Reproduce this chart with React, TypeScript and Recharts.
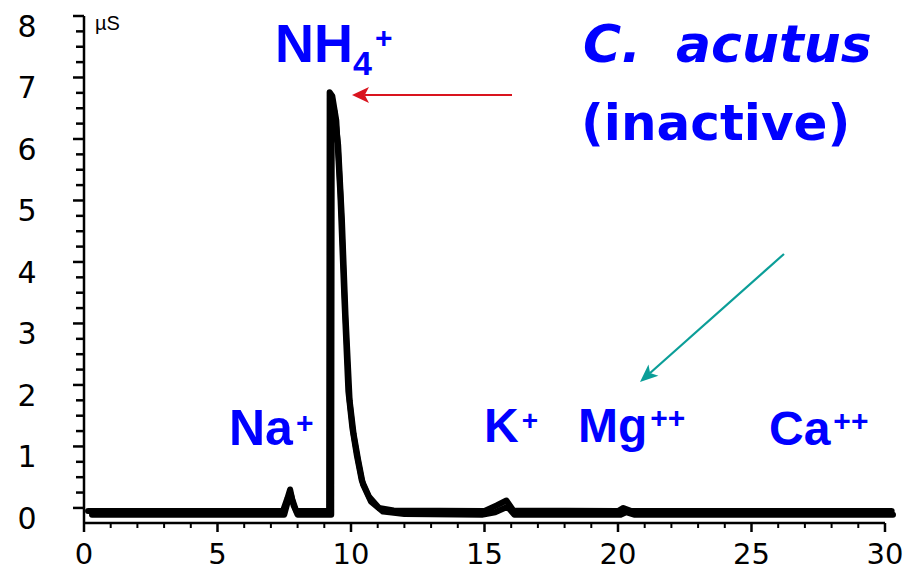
import { LineChart, Line, XAxis, YAxis, ReferenceLine } from "recharts"

// two overlapping conductivity traces (retention time in min, signal in µS)
const traceA = [
  { x: 0.15, y: -0.05 },
  { x: 7.45, y: -0.05 },
  { x: 7.62, y: 0.16 },
  { x: 7.72, y: 0.3 },
  { x: 7.8, y: 0.14 },
  { x: 7.95, y: -0.05 },
  { x: 9.18, y: -0.05 },
  { x: 9.2, y: 6.76 },
  { x: 9.3, y: 6.7 },
  { x: 9.45, y: 6.3 },
  { x: 9.6, y: 5.1 },
  { x: 9.75, y: 3.4 },
  { x: 9.9, y: 1.9 },
  { x: 10.05, y: 1.3 },
  { x: 10.22, y: 0.85 },
  { x: 10.4, y: 0.45 },
  { x: 10.68, y: 0.18 },
  { x: 11.05, y: 0.0 },
  { x: 11.6, y: -0.04 },
  { x: 15.0, y: -0.05 },
  { x: 15.45, y: 0.04 },
  { x: 15.82, y: 0.12 },
  { x: 16.08, y: -0.04 },
  { x: 20.0, y: -0.05 },
  { x: 20.2, y: 0.0 },
  { x: 20.5, y: -0.05 },
  { x: 30.25, y: -0.05 },
]

const traceB = [
  { x: 0.3, y: -0.11 },
  { x: 7.5, y: -0.11 },
  { x: 7.68, y: 0.18 },
  { x: 7.75, y: 0.22 },
  { x: 7.85, y: 0.04 },
  { x: 8.0, y: -0.11 },
  { x: 9.26, y: -0.11 },
  { x: 9.28, y: 6.6 },
  { x: 9.38, y: 6.45 },
  { x: 9.52, y: 5.9 },
  { x: 9.66, y: 4.7 },
  { x: 9.8, y: 3.1 },
  { x: 9.95, y: 1.75 },
  { x: 10.1, y: 1.2 },
  { x: 10.27, y: 0.78 },
  { x: 10.45, y: 0.38 },
  { x: 10.75, y: 0.1 },
  { x: 11.2, y: -0.06 },
  { x: 12.0, y: -0.1 },
  { x: 14.9, y: -0.11 },
  { x: 15.4, y: -0.07 },
  { x: 15.86, y: 0.02 },
  { x: 16.12, y: -0.11 },
  { x: 20.1, y: -0.11 },
  { x: 20.3, y: -0.07 },
  { x: 20.6, y: -0.11 },
  { x: 30.3, y: -0.11 },
]

const xTicks = [
  0, 1, 2, 3, 4, 5, 6, 7, 8, 9, 10, 11, 12, 13, 14, 15, 16, 17, 18, 19, 20, 21, 22, 23, 24, 25, 26, 27, 28, 29, 30,
]
const xLabels = [0, 5, 10, 15, 20, 25, 30]

const yTicks = [
  0, 0.25, 0.5, 0.75, 1, 1.25, 1.5, 1.75, 2, 2.25, 2.5, 2.75, 3, 3.25, 3.5, 3.75, 4, 4.25, 4.5, 4.75, 5, 5.25, 5.5,
  5.75, 6, 6.25, 6.5, 6.75, 7, 7.25, 7.5, 7.75, 8,
]
const yLabels = [0, 1, 2, 3, 4, 5, 6, 7, 8]

const yMin = -0.245
const xMax = 30.3
const tickFont = "DejaVu Sans"
const labelFont = "Liberation Sans, Arial, sans-serif"
const titleFont = "DejaVu Sans, Verdana, sans-serif"
const blue = "#0000ff"

function XTick(props: any) {
  const { x, y, payload } = props
  const major = xLabels.includes(payload.value)
  return (
    <g>
      <line x1={x} x2={x} y1={y} y2={y + (major ? 9 : 5)} stroke="#000" strokeWidth={major ? 2.5 : 2} />
      {major && (
        <text x={x} y={y + 41} textAnchor="middle" fontSize={29} fontFamily={tickFont} fill="#000">
          {payload.value}
        </text>
      )}
    </g>
  )
}

function YTick(props: any) {
  const { x, y, payload } = props
  const major = yLabels.includes(payload.value)
  return (
    <g>
      <line x1={x - (major ? 11 : 8)} x2={x} y1={y} y2={y} stroke="#000" strokeWidth={2.5} />
      {major && (
        <text x={x - 57} y={y + 21} textAnchor="middle" fontSize={30} fontFamily={tickFont} fill="#000">
          {payload.value}
        </text>
      )}
    </g>
  )
}

function Arrow({ from, to, color, head, half, width }: any) {
  const dx = to[0] - from[0]
  const dy = to[1] - from[1]
  const len = Math.sqrt(dx * dx + dy * dy)
  const ux = dx / len
  const uy = dy / len
  const bx = to[0] - ux * head
  const by = to[1] - uy * head
  const nx = to[0] - ux * head * 0.75
  const ny = to[1] - uy * head * 0.75
  const pts = [
    [to[0], to[1]],
    [bx - uy * half, by + ux * half],
    [nx, ny],
    [bx + uy * half, by - ux * half],
  ]
  return (
    <g>
      <line x1={from[0]} y1={from[1]} x2={nx} y2={ny} stroke={color} strokeWidth={width} />
      <polygon points={pts.map((p) => p.join(",")).join(" ")} fill={color} />
    </g>
  )
}

export default function App() {
  return (
    <div style={{ position: "absolute", left: 0, top: 0, width: 912, height: 571, background: "#fff" }}>
      <LineChart width={912} height={571} margin={{ top: 16, right: 19, bottom: 0, left: 24 }}>
        <XAxis
          type="number"
          dataKey="x"
          domain={[0, xMax]}
          ticks={xTicks}
          interval={0}
          axisLine={false}
          tickLine={false}
          tickSize={0}
          tickMargin={0}
          height={48}
          tick={<XTick />}
        />
        <YAxis
          type="number"
          domain={[yMin, 8]}
          ticks={yTicks}
          interval={0}
          width={60}
          axisLine={{ stroke: "#000", strokeWidth: 2.5 }}
          tickLine={false}
          tickSize={0}
          tickMargin={0}
          tick={<YTick />}
        />
        <ReferenceLine
          segment={[
            { x: 0, y: yMin },
            { x: 30, y: yMin },
          ]}
          stroke="#000"
          strokeWidth={2.5}
          ifOverflow="visible"
        />
        <Line
          data={traceB}
          dataKey="y"
          type="linear"
          stroke="#000"
          strokeWidth={6}
          strokeLinejoin="round"
          strokeLinecap="round"
          dot={false}
          activeDot={false}
          isAnimationActive={false}
        />
        <Line
          data={traceA}
          dataKey="y"
          type="linear"
          stroke="#000"
          strokeWidth={6}
          strokeLinejoin="round"
          strokeLinecap="round"
          dot={false}
          activeDot={false}
          isAnimationActive={false}
        />
      </LineChart>

      <svg
        width={912}
        height={571}
        style={{ position: "absolute", left: 0, top: 0, pointerEvents: "none" }}
      >
        <text x={95} y={30} fontSize={20} fontFamily={labelFont} fill="#000">
          µS
        </text>

        <text x={275} y={62} fontSize={54} fontWeight="bold" fontFamily={labelFont} fill={blue}>
          NH
          <tspan fontSize={34} dy={13}>
            4
          </tspan>
          <tspan fontSize={30} dx={3} dy={-27}>
            +
          </tspan>
        </text>

        <text x={583} y={62} fontSize={52} fontWeight="bold" fontStyle="italic" fontFamily={titleFont} fill={blue}>
          C.
        </text>
        <text x={676} y={62} fontSize={52} fontWeight="bold" fontStyle="italic" fontFamily={titleFont} fill={blue}>
          acutus
        </text>
        <text x={581} y={140} fontSize={50} fontWeight="bold" fontFamily={titleFont} fill={blue}>
          (inactive)
        </text>

        <text x={229} y={445} fontSize={50} fontWeight="bold" fontFamily={labelFont} fill={blue}>
          Na
          <tspan fontSize={30} dx={3} dy={-12}>
            +
          </tspan>
        </text>
        <text x={484} y={442} fontSize={48} fontWeight="bold" fontFamily={labelFont} fill={blue}>
          K
          <tspan fontSize={28} dx={3} dy={-12}>
            +
          </tspan>
        </text>
        <text x={578} y={442} fontSize={48} fontWeight="bold" fontFamily={labelFont} fill={blue}>
          Mg
          <tspan fontSize={30} dx={3} dy={-14}>
            ++
          </tspan>
        </text>
        <text x={769} y={445} fontSize={48} fontWeight="bold" fontFamily={labelFont} fill={blue}>
          Ca
          <tspan fontSize={30} dx={3} dy={-14}>
            ++
          </tspan>
        </text>

        <Arrow from={[512, 95]} to={[352, 95]} color="#d9141e" head={17} half={8} width={2} />
        <Arrow from={[784, 254]} to={[640, 382]} color="#0b9e98" head={18} half={7.5} width={2.2} />
      </svg>
    </div>
  )
}
